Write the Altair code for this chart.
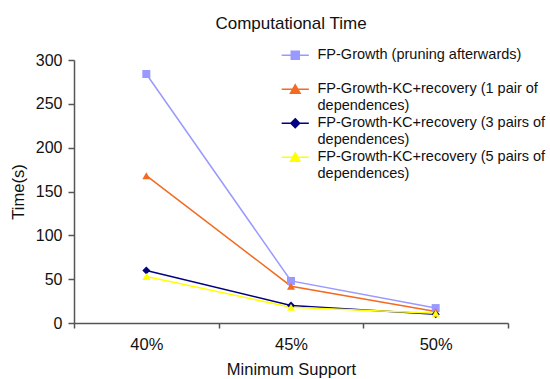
import altair as alt
import pandas as pd

supports = ["40%", "45%", "50%"]
series_names = [
    "FP-Growth (pruning afterwards)|",
    "FP-Growth-KC+recovery (1 pair of|dependences)",
    "FP-Growth-KC+recovery (3 pairs of|dependences)",
    "FP-Growth-KC+recovery (5 pairs of|dependences)",
]
fp_growth = [284, 48, 17]
kc_1pair = [168, 42, 13]
kc_3pairs = [60, 20, 10]
kc_5pairs = [53, 18, 11]

colors = ["#9999FF", "#F26B21", "#000080", "#FFFF00"]
shapes = ["square", "triangle-up", "diamond", "triangle-up"]
# legend glyphs: a short line through the marker (unit coords, scaled by sqrt(size)/2)
legend_glyphs = [
    "M-3.4,0H3.4M-1,-1H1V1H-1Z",
    "M-3.4,0H3.4M0,-1.1L1.2,1L-1.2,1Z",
    "M-3.4,0H3.4M0,-1.1L1.1,0L0,1.1L-1.1,0Z",
    "M-3.4,0H3.4M0,-1.1L1.2,1L-1.2,1Z",
]

rows = []
for name, vals in zip(series_names, [fp_growth, kc_1pair, kc_3pairs, kc_5pairs]):
    for s, v in zip(supports, vals):
        rows.append({"Support": s, "Time": v, "Series": name})
df = pd.DataFrame(rows)

font = "Liberation Sans"
ink = "#111111"

x = alt.X("Support:N", sort=supports, title="Minimum Support",
          scale=alt.Scale(paddingInner=0, paddingOuter=0),
          axis=alt.Axis(labelAngle=0, labelFontSize=16.5, titleFontSize=16.5,
                        labelPadding=8, titlePadding=9, domainColor="#555555",
                        domainWidth=1.5, tickWidth=1.5,
                        tickColor="#555555", tickBand="extent", tickSize=5, grid=False,
                        titleFontWeight="normal", labelColor=ink, titleColor=ink))
y = alt.Y("Time:Q", title="Time(s)",
          scale=alt.Scale(domain=[0, 300], nice=False),
          axis=alt.Axis(values=[0, 50, 100, 150, 200, 250, 300], labelFontSize=16,
                        titleFontSize=16.5, grid=False, domainColor="#555555",
                        domainWidth=1.5, tickWidth=1.5,
                        tickColor="#555555", tickSize=6, labelPadding=6,
                        titlePadding=9, titleFontWeight="normal",
                        labelColor=ink, titleColor=ink))

color = alt.Color("Series:N", sort=series_names,
                  scale=alt.Scale(domain=series_names, range=colors), legend=None)
shape = alt.Shape("Series:N", sort=series_names,
                  scale=alt.Scale(domain=series_names, range=shapes), legend=None)

legend = alt.Legend(
    title=None, orient="none", legendX=214, legendY=-12,
    labelExpr="split(datum.label, '|')", labelFontSize=14.5, labelFont=font,
    labelColor=ink, rowPadding=2, labelLimit=400, symbolSize=64,
    symbolStrokeWidth=1.5, labelOffset=15,
)

lines = alt.Chart(df).mark_line(strokeWidth=1.5).encode(x=x, y=y, color=color)
points = alt.Chart(df).mark_point(filled=True, size=64, opacity=1).encode(
    x=x, y=y, color=color, shape=shape)
key = alt.Chart(df).transform_filter("false").mark_point(
    filled=True, size=64, opacity=1, strokeWidth=1.5).encode(
    x=x, y=y,
    fill=alt.Fill("Series:N", sort=series_names,
                  scale=alt.Scale(domain=series_names, range=colors), legend=legend),
    stroke=alt.Stroke("Series:N", sort=series_names,
                      scale=alt.Scale(domain=series_names, range=colors), legend=legend),
    shape=alt.Shape("Series:N", sort=series_names,
                    scale=alt.Scale(domain=series_names, range=legend_glyphs),
                    legend=legend),
)

chart = alt.layer(lines, points, key).resolve_scale(
    shape="independent", fill="independent", stroke="independent").properties(
    width=434, height=263,
    title=alt.TitleParams("Computational Time", fontSize=17, fontWeight="normal",
                          font=font, color=ink, offset=15),
    padding={"left": 74, "top": 60, "right": 42, "bottom": 56},
    autosize=alt.AutoSizeParams(type="none"),
).configure_view(stroke=None).configure_axis(labelFont=font, titleFont=font)

chart.save("out.html", embed_options={"renderer": "svg", "actions": False})
